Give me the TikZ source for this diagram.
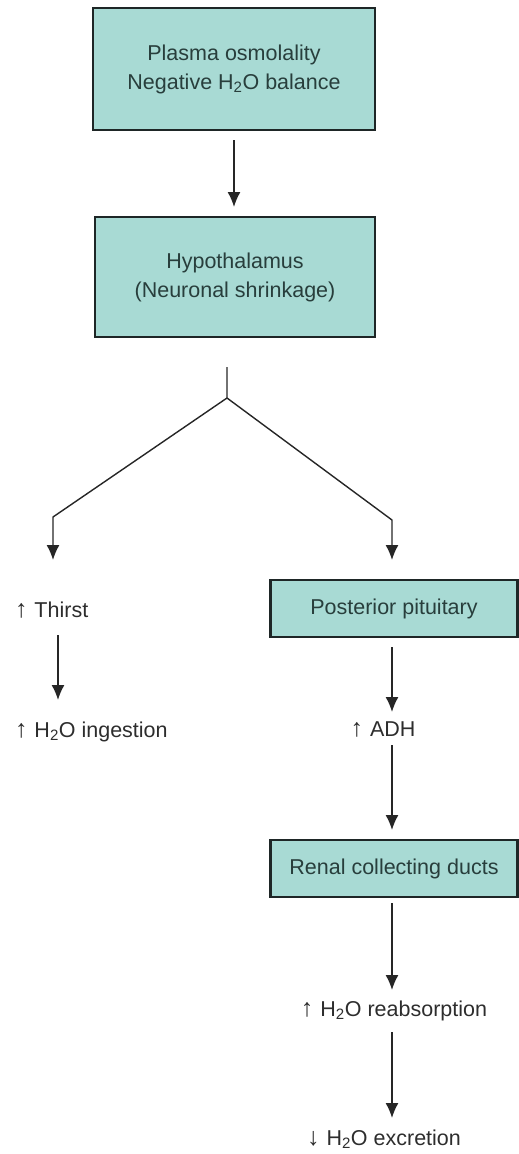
\documentclass[tikz,border=0pt]{standalone}
\usepackage{fontspec}
\setmainfont{Liberation Sans}
\usetikzlibrary{arrows.meta,positioning}
\definecolor{boxfill}{RGB}{168,218,212}
\definecolor{boxline}{RGB}{30,38,38}
\definecolor{boxtext}{RGB}{40,62,60}
\definecolor{plaintext}{RGB}{45,45,45}
\newcommand{\upmark}{{\fontsize{25}{25}\selectfont ↑}\hspace{7pt}}
\newcommand{\downmark}{{\fontsize{25}{25}\selectfont ↓}\hspace{7pt}}

\begin{document}
\begin{tikzpicture}[x=1pt,y=-1pt,
    box/.style={draw=boxline,fill=boxfill,line width=2.6pt,outer sep=0pt,
      text=boxtext,align=center,font=\fontsize{21.5}{29}\selectfont},
    lbl/.style={inner sep=0pt,outer sep=0pt,text height=15pt,text depth=5pt,
      text=plaintext,font=\fontsize{21.5}{29}\selectfont},
    arr/.style={-{Latex[width=13pt,length=15pt]},line width=1.4pt,draw=black!85}]
  \useasboundingbox (0,0) rectangle (519,1154);
  \node[box,minimum width=282pt,minimum height=122pt] (plasma) at (234,69)
    {Plasma osmolality\\Negative H\textsubscript{2}O balance};
  \node[box,minimum width=280pt,minimum height=120pt] (hypo) at (235,277)
    {Hypothalamus\\(Neuronal shrinkage)};
  \node[box,minimum width=247pt,minimum height=57pt] (pit) at (394,608.5)
    {Posterior pituitary};
  \node[box,minimum width=247pt,minimum height=57pt] (renal) at (394,868.5)
    {Renal collecting ducts};
  \node[lbl,anchor=base west] (thirst) at (15,617) {\upmark Thirst};
  \node[lbl,anchor=base west] (ingest) at (15,737) {\upmark H\textsubscript{2}O ingestion};
  \node[lbl,anchor=base] (adh) at (383,736) {\upmark ADH};
  \node[lbl,anchor=base] (reab) at (394,1016) {\upmark H\textsubscript{2}O reabsorption};
  \node[lbl,anchor=base] (excr) at (384,1145) {\downmark H\textsubscript{2}O excretion};
  \coordinate (fork) at (227,398);
  \coordinate (lknee) at (53,517);
  \coordinate (rknee) at (392,520);
  \coordinate (lcol) at (58,0);
  \coordinate (rcol) at (392,0);
  \draw[arr,shorten <=10pt,shorten >=10pt] (plasma.south) -- (hypo.north -| plasma.south);
  \draw[arr,shorten <=30pt] (hypo.south -| fork) -- (fork) -- (lknee) -- ([yshift=42pt]thirst.north -| lknee);
  \draw[arr] (fork) -- (rknee) -- ([yshift=20pt]pit.north -| rknee);
  \draw[arr,shorten <=13pt,shorten >=22pt] (thirst.south -| lcol) -- (ingest.north -| lcol);
  \draw[arr,shorten <=10pt,shorten >=9pt] (pit.south -| rcol) -- (adh.north -| rcol);
  \draw[arr,shorten <=4pt,shorten >=10pt] (adh.south -| rcol) -- (renal.north -| rcol);
  \draw[arr,shorten <=6pt,shorten >=11pt] (renal.south -| rcol) -- (reab.north -| rcol);
  \draw[arr,shorten <=11pt,shorten >=12pt] (reab.south -| rcol) -- (excr.north -| rcol);
\end{tikzpicture}
\end{document}
